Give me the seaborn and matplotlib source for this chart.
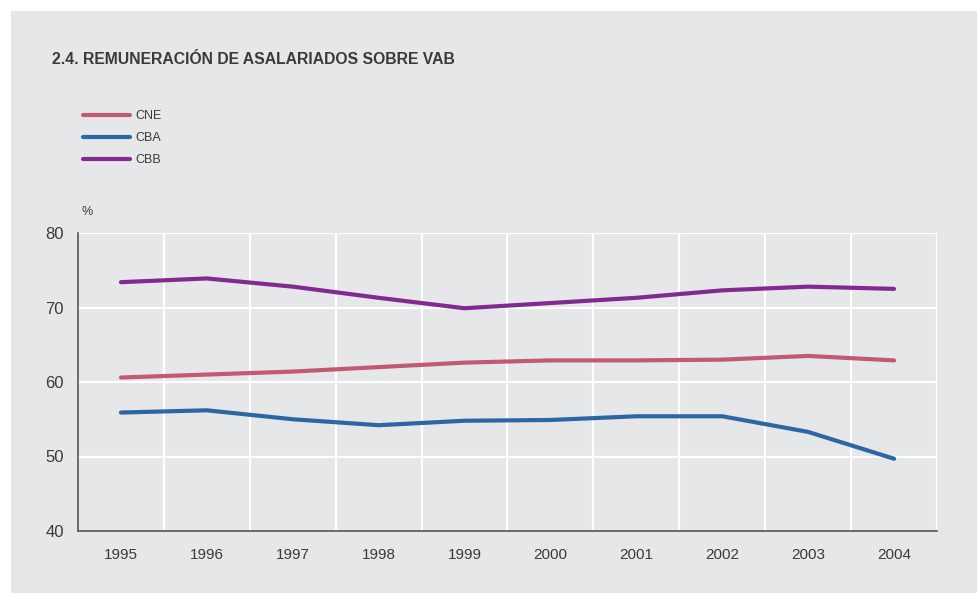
import numpy as np
import pandas as pd
import matplotlib
matplotlib.use("Agg")
import matplotlib.pyplot as plt
import seaborn as sns
from matplotlib.patches import Rectangle
from matplotlib.lines import Line2D

# Data
years = ["1995", "1996", "1997", "1998", "1999", "2000", "2001", "2002", "2003", "2004"]
cne = [60.6, 61.0, 61.4, 62.0, 62.6, 62.9, 62.9, 63.0, 63.5, 62.9]
cba = [55.9, 56.2, 55.0, 54.2, 54.8, 54.9, 55.4, 55.4, 53.3, 49.7]
cbb = [73.4, 73.9, 72.8, 71.3, 69.9, 70.6, 71.3, 72.3, 72.8, 72.5]

df = pd.DataFrame({
    "pos": list(range(len(years))) * 3,
    "valor": cne + cba + cbb,
    "serie": ["CNE"] * len(years) + ["CBA"] * len(years) + ["CBB"] * len(years),
})

sns.set_style("white")
plt.rcParams["font.family"] = ["Liberation Sans", "DejaVu Sans"]

bg = "#e6e7e9"
txt = "#3a3a3a"
palette = {"CNE": "#c25a72", "CBA": "#2d67a3", "CBB": "#822a90"}

fig = plt.figure(figsize=(9.78, 5.93), dpi=100)
fig.patch.set_facecolor("white")
# gray panel behind everything
fig.patches.append(Rectangle((11 / 978, 0), 1, 1 - 11 / 593, transform=fig.transFigure,
                             facecolor=bg, edgecolor="none", zorder=-10))

ax = fig.add_axes([78 / 978, 1 - 531 / 593, (937 - 78) / 978, (531 - 233) / 593])
ax.set_facecolor(bg)

sns.lineplot(data=df, x="pos", y="valor", hue="serie", palette=palette,
             linewidth=3, ax=ax, legend=False, zorder=3)

ax.set_xlim(-0.5, 9.5)
ax.set_ylim(40, 80)
ax.set_yticks([40, 50, 60, 70, 80])
ax.set_xticks(range(len(years)))
ax.set_xticklabels(years)
ax.set_xlabel("")
ax.set_ylabel("")

# white grid: horizontal at ticks, vertical between categories
for y in [50, 60, 70, 80]:
    ax.axhline(y, color="white", lw=1.5, zorder=1)
for i in range(len(years)):
    ax.axvline(i + 0.5, color="white", lw=1.5, zorder=1)

for s in ["top", "right"]:
    ax.spines[s].set_visible(False)
for s in ["left", "bottom"]:
    ax.spines[s].set_color("#555555")
    ax.spines[s].set_linewidth(1.2)

ax.tick_params(axis="both", length=0, colors=txt)
ax.tick_params(axis="y", pad=10, labelsize=12)
ax.tick_params(axis="x", pad=12, labelsize=11)

# title and unit
fig.text(52 / 978, 1 - 60 / 593, "2.4. REMUNERACIÓN DE ASALARIADOS SOBRE VAB",
         fontsize=11.3, fontweight="bold", color=txt, va="center", ha="left")
fig.text(82 / 978, 1 - 212 / 593, "%", fontsize=9, color=txt, va="center", ha="left")

# legend
handles = [Line2D([0], [0], color=palette[k], lw=3) for k in ["CNE", "CBA", "CBB"]]
leg = fig.legend(handles, ["CNE", "CBA", "CBB"], loc="upper left",
                 bbox_to_anchor=(72 / 978, 1 - 99 / 593), frameon=False,
                 fontsize=9, handlelength=3.7, handletextpad=0.45, labelspacing=0.8)
for t in leg.get_texts():
    t.set_color(txt)

fig.savefig("out.png", dpi=100, facecolor=fig.get_facecolor())
